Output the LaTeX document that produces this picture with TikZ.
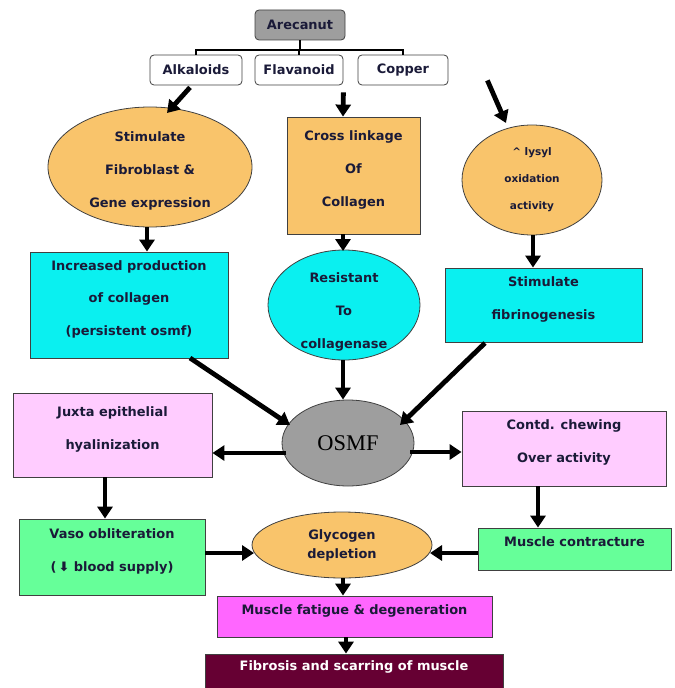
\documentclass[tikz,border=0pt]{standalone}
\usepackage{fontspec}
\setmainfont{DejaVu Sans}
\newfontfamily\osmffont{Liberation Serif}
\usetikzlibrary{shapes.geometric,arrows.meta,calc}
\definecolor{orangefill}{HTML}{F9C46B}
\definecolor{cyanfill}{HTML}{0AF0F0}
\definecolor{pinkfill}{HTML}{FFCCFF}
\definecolor{greenfill}{HTML}{66FF99}
\definecolor{magfill}{HTML}{FF66FF}
\definecolor{maroonfill}{HTML}{660033}
\definecolor{grayfill}{HTML}{9E9E9E}
\definecolor{textc}{HTML}{1A1A38}
\tikzset{
  base/.style={draw=black!75, line width=0.8bp, text=textc, align=center, inner sep=0pt,
    font=\bfseries\fontsize{13}{33}\selectfont},
  box/.style={base, rectangle, text depth=14bp},
  ell/.style={base, ellipse},
  elltext/.style={text=textc, align=center, inner sep=0pt, font=\bfseries\fontsize{13}{33}\selectfont},
  topbox/.style={base, rectangle, rounded corners=4bp, fill=white, font=\bfseries\fontsize{13}{15}\selectfont},
  arr/.style={line width=4.8bp, black, -{Triangle[length=12bp,width=15bp]}},
  brk/.style={line width=2.5bp, black}
}
\begin{document}
\begin{tikzpicture}[x=1bp,y=-1bp]
\useasboundingbox (0,0) rectangle (675,688);
% top
\node[topbox, fill=grayfill, minimum width=90bp, minimum height=30bp] (are) at (300,25) {Arecanut};
\node[topbox, minimum width=92bp, minimum height=30bp] (alk) at (196,70) {Alkaloids};
\node[topbox, minimum width=88bp, minimum height=30bp] (flav) at (299,70) {Flavanoid};
\node[topbox, minimum width=90bp, minimum height=30bp] (cop) at (403,70) {Copper};
\coordinate (bl) at (196,50);
\coordinate (bm) at (299,50);
\coordinate (br) at (403,50);
\draw[brk] (are.south) -- (are.south |- bm);
\draw[brk] (alk.north) -- (bl) -- (br) -- (cop.north);
\draw[brk] (flav.north) -- (bm);
% row 2
\node[ell, fill=orangefill, minimum width=204bp, minimum height=120bp,
  label={[elltext, yshift=-4bp]center:{Stimulate\\Fibroblast \&\\Gene expression}}] (fibro) at (150,167) {};
\node[box, fill=orangefill, minimum width=133bp, minimum height=117bp] (cross) at (353.5,175.5)
  {Cross linkage\\Of\\Collagen};
\node[ell, fill=orangefill, minimum width=140bp, minimum height=110bp,
  font=\bfseries\fontsize{10.5}{27}\selectfont] (lys) at (532,180)
  {\textasciicircum{} lysyl\\oxidation\\activity};
% row 3
\node[box, fill=cyanfill, minimum width=198bp, minimum height=106bp] (incr) at (129,305)
  {Increased production\\of collagen\\(persistent osmf)};
\node[ell, fill=cyanfill, minimum width=152bp, minimum height=110bp,
  label={[elltext, yshift=-7bp]center:{Resistant\\To\\collagenase}}] (res) at (344,305) {};
\node[box, fill=cyanfill, minimum width=197bp, minimum height=74bp] (fib) at (543.5,305)
  {Stimulate\\fibrinogenesis};
% row 4
\node[ell, fill=grayfill, minimum width=132bp, minimum height=86bp, text=black,
  font=\osmffont\fontsize{22.5}{24}\selectfont] (osmf) at (348,443) {OSMF};
\node[box, fill=pinkfill, minimum width=199bp, minimum height=84bp] (jux) at (112.5,435)
  {Juxta epithelial\\hyalinization};
\node[box, fill=pinkfill, minimum width=204bp, minimum height=75bp] (contd) at (564,448.5)
  {Contd. chewing\\Over activity};
% row 5
\node[box, fill=greenfill, minimum width=186bp, minimum height=76bp] (vaso) at (112,557)
  {Vaso obliteration\\(\,⬇ blood supply)};
\node[ell, fill=orangefill, minimum width=180bp, minimum height=66bp,
  font=\bfseries\fontsize{13}{19}\selectfont] (gly) at (342,545)
  {Glycogen\\depletion};
\node[box, fill=greenfill, minimum width=193bp, minimum height=42bp] (mc) at (574.5,549)
  {Muscle contracture};
% bottom
\node[box, fill=magfill, minimum width=275bp, minimum height=41bp] (mf) at (354.5,616.5)
  {Muscle fatigue \& degeneration};
\node[box, fill=maroonfill, text=white, minimum width=298bp, minimum height=36bp, text depth=12bp] (fs) at (354,672)
  {Fibrosis and scarring of muscle};
% arrows
\draw[arr] ($(alk.south)+(-6,2)$) -- (167,113);
\draw[arr] (fibro.south -| 147,0) -- (incr.north -| 147,0);
\draw[arr] ($(flav.south east)+(0,7)$) -- (cross.north -| 343,0);
\draw[arr] (cross.south -| 343,0) -- (343,251);
\draw[arr] ($(cop.south east)+(39,-5)$) -- (506,123);
\draw[arr] (lys.south -| 533,0) -- (fib.north -| 533,0);
\draw[arr] (190,358) -- (290,425);
\draw[arr] (res.south -| 343,0) -- (osmf.north -| 343,0);
\draw[arr] (485,343) -- (400,425);
\draw[arr] (286,453) -- (jux.east |- 0,453);
\draw[arr] (410,452) -- (contd.west |- 0,452);
\draw[arr] (jux.south -| 105,0) -- (vaso.north -| 105,0);
\draw[arr] (contd.south -| 538,0) -- (mc.north -| 538,0);
\draw[arr] (vaso.east |- 0,553) -- (254,553);
\draw[arr] (mc.west |- 0,553) -- (430,553);
\draw[arr] (gly.south -| 343,0) -- (mf.north -| 343,0);
\draw[arr] (mf.south -| 346,0) -- (fs.north -| 346,0);
\end{tikzpicture}
\end{document}
